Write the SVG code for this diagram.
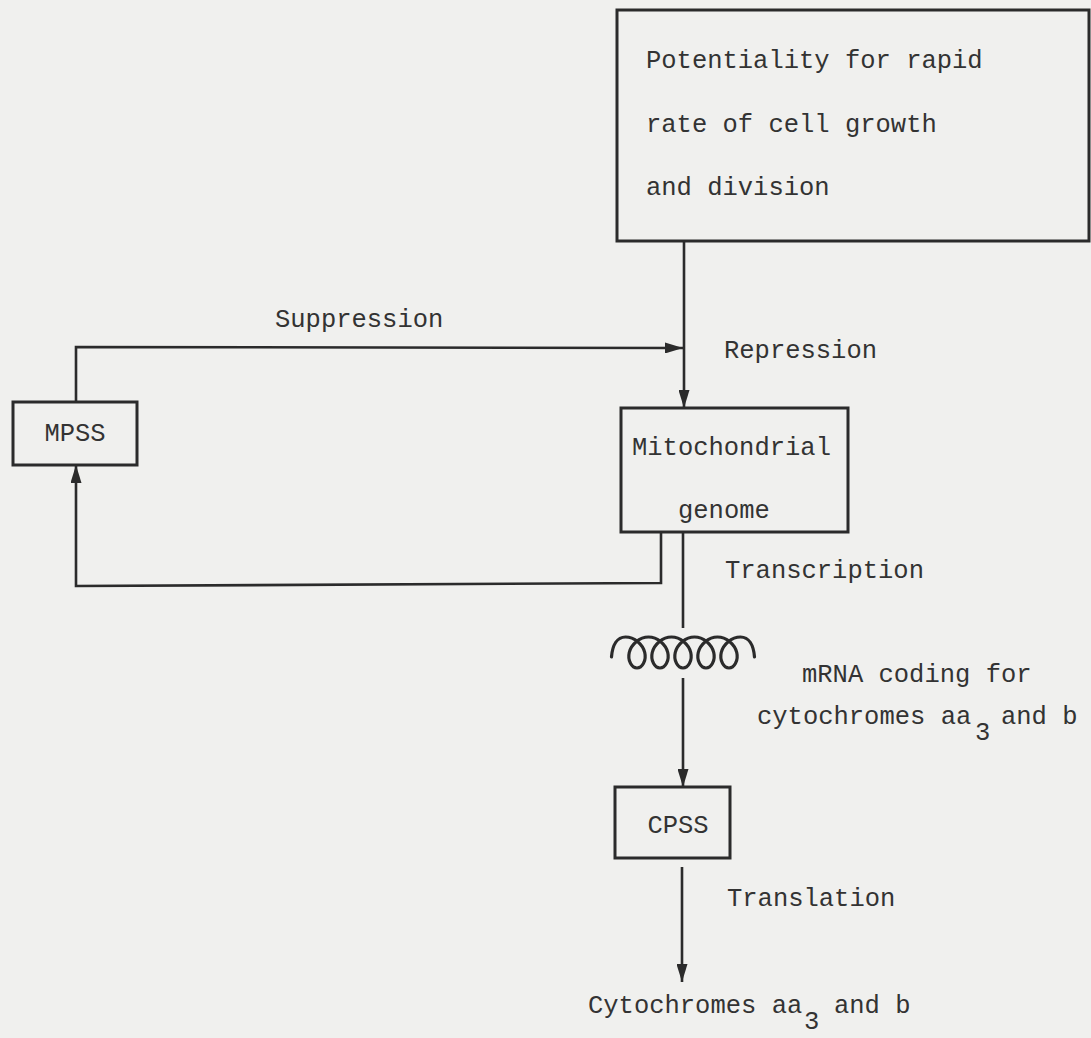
<svg xmlns="http://www.w3.org/2000/svg" width="1091" height="1038" viewBox="0 0 1091 1038">
  <defs>
    <style>
      .box { fill: none; stroke: #2b2b2b; stroke-width: 3; }
      .wire { fill: none; stroke: #2b2b2b; stroke-width: 2.6; }
      .coil { fill: none; stroke: #2b2b2b; stroke-width: 3.2; stroke-linecap: round; }
      text { font-family: "Courier New", "Liberation Mono", monospace; font-size: 25.5px; fill: #333333; }
    </style>
    <marker id="arrow" viewBox="0 0 18 11" refX="18" refY="5.5" markerWidth="18" markerHeight="11" markerUnits="userSpaceOnUse" orient="auto">
      <path d="M0,0 L18,5.5 L0,11 z" fill="#2b2b2b"/>
    </marker>
  </defs>

  <rect x="0" y="0" width="1091" height="1038" fill="#f0f0ee"/>

  <!-- connectors -->
  <g id="connectors">
    <!-- growth potential represses the mitochondrial genome -->
    <path class="wire" d="M684,241 L684,408" marker-end="url(#arrow)"/>
    <!-- MPSS suppression of the repression -->
    <path class="wire" d="M76,402 L76,347 L683,348" marker-end="url(#arrow)"/>
    <!-- feedback from genome to MPSS -->
    <path class="wire" d="M661,532 L661,583 L76,586 L76,465" marker-end="url(#arrow)"/>
    <!-- transcription -->
    <path class="wire" d="M683,532 L683,628"/>
    <path class="wire" d="M683,678 L683,787" marker-end="url(#arrow)"/>
    <!-- translation -->
    <path class="wire" d="M682,867 L682,982" marker-end="url(#arrow)"/>
  </g>

  <!-- nodes -->
  <g id="growth">
    <rect class="box" x="617" y="10" width="472" height="231"/>
    <text x="646" y="68">Potentiality for rapid</text>
    <text x="646" y="132">rate of cell growth</text>
    <text x="646" y="195">and division</text>
  </g>

  <g id="mpss">
    <rect class="box" x="13" y="402" width="124" height="63"/>
    <text x="75" y="441" text-anchor="middle">MPSS</text>
  </g>

  <g id="genome">
    <rect class="box" x="621" y="408" width="227" height="124"/>
    <text x="632" y="455">Mitochondrial</text>
    <text x="678" y="518">genome</text>
  </g>

  <g id="mrna">
    <!-- curled strand: five loops hanging below arched tops -->
    <path class="coil" d="M611.5,657 C612.5,645 617.2,637 625.5,637
      C634.48,637 642.83,644.38 644.75,652.5 C646.67,660.62 642.15,668 637,668 C631.85,668 627.33,660.62 629.25,652.5 C631.17,644.38 639.52,637 648.5,637
      C657.48,637 665.83,644.38 667.75,652.5 C669.67,660.62 665.15,668 660,668 C654.85,668 650.33,660.62 652.25,652.5 C654.17,644.38 662.52,637 671.5,637
      C680.48,637 688.83,644.38 690.75,652.5 C692.67,660.62 688.15,668 683,668 C677.85,668 673.33,660.62 675.25,652.5 C677.17,644.38 685.52,637 694.5,637
      C703.48,637 711.83,644.38 713.75,652.5 C715.67,660.62 711.15,668 706,668 C700.85,668 696.33,660.62 698.25,652.5 C700.17,644.38 708.52,637 717.5,637
      C726.48,637 734.83,644.38 736.75,652.5 C738.67,660.62 734.15,668 729,668 C723.85,668 719.33,660.62 721.25,652.5 C723.17,644.38 731.52,637 740.5,637
      C748.8,637 753.5,645 754.5,657"/>
    <text x="802" y="682">mRNA coding for</text>
    <text x="757" y="724">cytochromes aa<tspan x="975" dy="16">3</tspan><tspan x="1001" dy="-16">and b</tspan></text>
  </g>

  <g id="cpss">
    <rect class="box" x="615" y="787" width="115" height="71"/>
    <text x="678" y="833" text-anchor="middle">CPSS</text>
  </g>

  <g id="cytochromes">
    <text x="588" y="1013">Cytochromes aa<tspan x="804" dy="16">3</tspan><tspan x="834" dy="-16">and b</tspan></text>
  </g>

  <!-- process labels -->
  <g id="labels">
    <text x="275" y="327">Suppression</text>
    <text x="724" y="358">Repression</text>
    <text x="725" y="578">Transcription</text>
    <text x="727" y="906">Translation</text>
  </g>
</svg>
